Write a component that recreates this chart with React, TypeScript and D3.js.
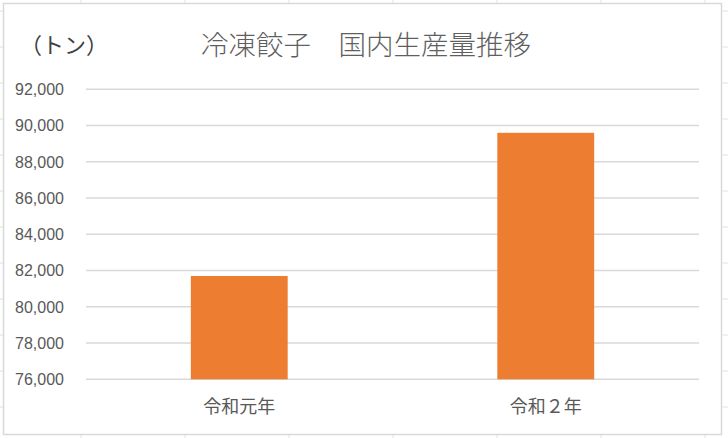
import { useEffect, useRef } from "react";
import * as d3 from "d3";

// data
const categories = ["令和元年", "令和２年"];
const production = [81700, 89600];
const yTicks = [76000, 78000, 80000, 82000, 84000, 86000, 88000, 90000, 92000];

const TITLE = "冷凍餃子　国内生産量推移";
const UNIT = "（トン）";

const W = 728;
const H = 438;
const JP = "'Noto Sans CJK JP', 'Noto Sans', sans-serif";

export default function App() {
  const svgRef = useRef<SVGSVGElement>(null);

  useEffect(() => {
    document.body.style.margin = "0";
    if (!svgRef.current) return;
    const svg = d3.select(svgRef.current);
    svg.selectAll("*").remove();

    // spreadsheet cells behind the chart
    svg.append("rect").attr("width", W).attr("height", H).attr("fill", "#ffffff");
    svg.selectAll("line.cell-v")
      .data(d3.range(-23, W, 104))
      .join("line")
      .attr("x1", (d) => d).attr("x2", (d) => d)
      .attr("y1", 0).attr("y2", H)
      .attr("stroke", "#e2e2e2").attr("stroke-width", 1);
    svg.selectAll("line.cell-h")
      .data(d3.range(11, H, 36))
      .join("line")
      .attr("x1", 0).attr("x2", W)
      .attr("y1", (d) => d).attr("y2", (d) => d)
      .attr("stroke", "#e2e2e2").attr("stroke-width", 1);

    // chart area
    svg.append("rect")
      .attr("x", 3.5).attr("y", 3.5)
      .attr("width", 718).attr("height", 431)
      .attr("fill", "#ffffff")
      .attr("stroke", "#d9d9d9").attr("stroke-width", 1.5);

    const x = d3.scaleBand<string>()
      .domain(categories)
      .range([86, 699])
      .paddingInner(0.684)
      .paddingOuter(0.342);
    const y = d3.scaleLinear().domain([76000, 92000]).range([379.3, 89.3]);

    // gridlines
    svg.selectAll("line.grid")
      .data(yTicks)
      .join("line")
      .attr("x1", 86).attr("x2", 699)
      .attr("y1", (d) => y(d)).attr("y2", (d) => y(d))
      .attr("stroke", "#d9d9d9").attr("stroke-width", 1.4);

    // bars
    svg.selectAll("rect.bar")
      .data(production)
      .join("rect")
      .attr("x", (_, i) => x(categories[i])!)
      .attr("width", x.bandwidth())
      .attr("y", (d) => y(d))
      .attr("height", (d) => y(76000) - y(d))
      .attr("fill", "#ed7d31");

    // y labels
    svg.selectAll("text.ytick")
      .data(yTicks)
      .join("text")
      .attr("x", 64)
      .attr("y", (d) => y(d))
      .attr("dy", "0.36em")
      .attr("text-anchor", "end")
      .attr("fill", "#595959")
      .attr("font-family", "'Liberation Sans', Arial, sans-serif")
      .attr("font-size", 16)
      .text((d) => d3.format(",")(d));

    // category labels
    svg.selectAll("text.xtick")
      .data(categories)
      .join("text")
      .attr("x", (d) => x(d)! + x.bandwidth() / 2)
      .attr("y", 407)
      .attr("dy", "0.36em")
      .attr("text-anchor", "middle")
      .attr("fill", "#595959")
      .attr("font-family", JP)
      .attr("font-size", 18)
      .text((d) => d);

    // title and unit
    svg.append("text")
      .attr("x", 366).attr("y", 45).attr("dy", "0.36em")
      .attr("text-anchor", "middle")
      .attr("fill", "#5f5f5f")
      .attr("font-family", JP)
      .attr("font-weight", 300)
      .attr("font-size", 27.5)
      .text(TITLE);
    svg.append("text")
      .attr("x", 20).attr("y", 45).attr("dy", "0.36em")
      .attr("fill", "#404040")
      .attr("font-family", JP)
      .attr("font-size", 22)
      .text(UNIT);
  }, []);

  return (
    <div style={{ position: "absolute", left: 0, top: 0 }}>
      <svg ref={svgRef} width={W} height={H} style={{ display: "block" }} />
    </div>
  );
}
